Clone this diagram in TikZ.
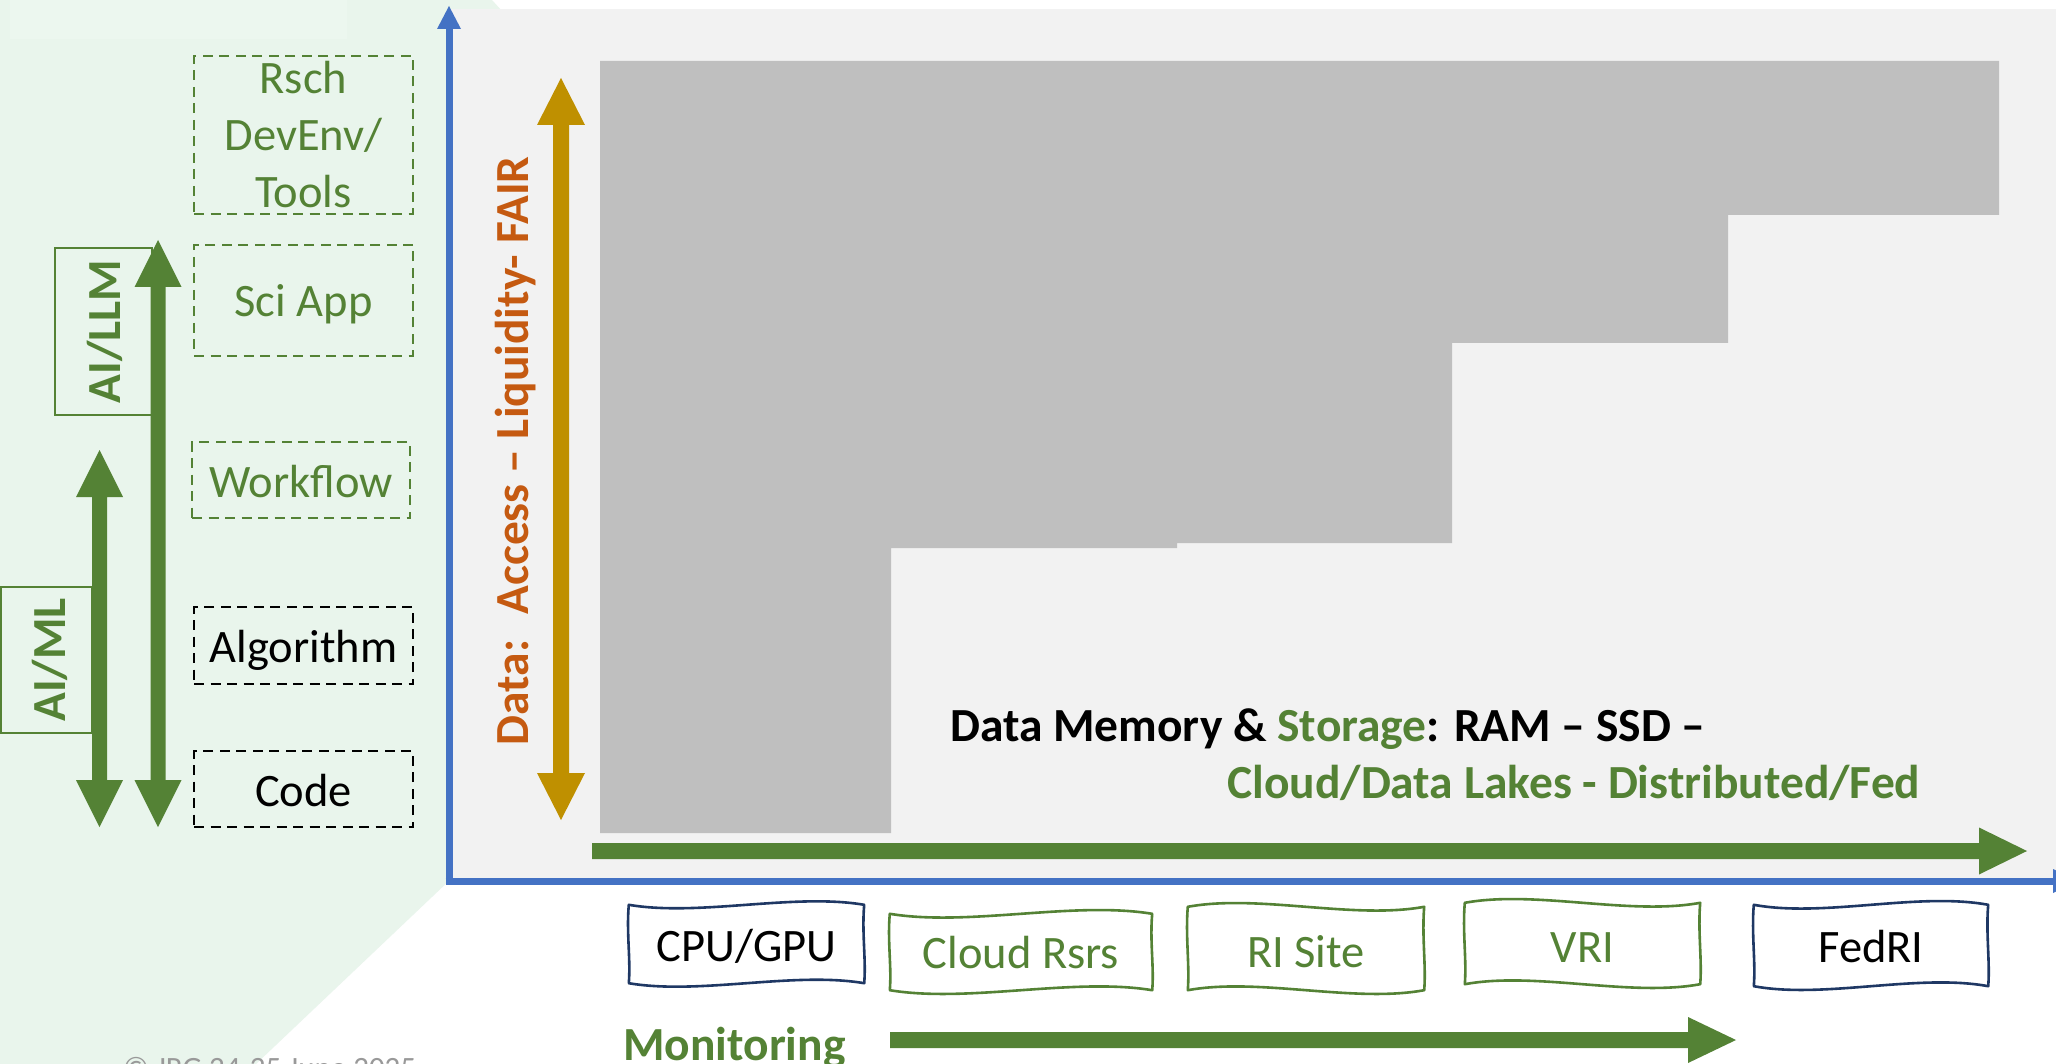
\documentclass[tikz,border=0pt]{standalone}
\usepackage{fontspec}
\setmainfont{Carlito}
\usetikzlibrary{calc}

\definecolor{leafgreen}{HTML}{548235}
\definecolor{axisblue}{HTML}{4472C4}
\definecolor{gold}{HTML}{BF9000}
\definecolor{rust}{HTML}{C55A11}
\definecolor{navy}{HTML}{1F3864}
\definecolor{mint}{HTML}{E9F5EC}
\definecolor{mintlight}{HTML}{ECF7EF}
\definecolor{panelgrey}{HTML}{F2F2F2}
\definecolor{stairgrey}{HTML}{BFBFBF}
\definecolor{notegrey}{HTML}{999999}

% hand-drawn tape outline around a node: name, colour, wave depth
\newcommand\tapeoutline[3]{%
  \draw[#2, tapeline]
    (#1.north west)
      .. controls ($(#1.north west)!0.3!(#1.north east)+(0,#3)$)
              and ($(#1.north west)!0.7!(#1.north east)+(0,-#3)$) .. (#1.north east)
      .. controls ($(#1.north east)!0.35!(#1.south east)+(-2.5,0)$)
              and ($(#1.north east)!0.7!(#1.south east)+(2,0)$) .. (#1.south east)
      .. controls ($(#1.south east)!0.3!(#1.south west)+(0,-#3)$)
              and ($(#1.south east)!0.7!(#1.south west)+(0,#3)$) .. (#1.south west)
      .. controls ($(#1.south west)!0.3!(#1.north west)+(2,0)$)
              and ($(#1.south west)!0.65!(#1.north west)+(-2.5,0)$) .. (#1.north west)
      -- cycle;}

% vertical block arrow with two heads: colour, x, top tip, bottom tip,
% half shaft width, half head width, head length
\newcommand\vbiarrow[7]{%
  \fill[#1] (#2,#3) -- (#2+#6,#3+#7) -- (#2+#5,#3+#7) -- (#2+#5,#4-#7)
    -- (#2+#6,#4-#7) -- (#2,#4) -- (#2-#6,#4-#7) -- (#2-#5,#4-#7)
    -- (#2-#5,#3+#7) -- (#2-#6,#3+#7) -- cycle;}

% horizontal block arrow: colour, tail x, tip x, y, half shaft, half head, head length
\newcommand\hblockarrow[7]{%
  \fill[#1] (#2,#4-#5) -- (#3-#7,#4-#5) -- (#3-#7,#4-#6) -- (#3,#4)
    -- (#3-#7,#4+#6) -- (#3-#7,#4+#5) -- (#2,#4+#5) -- cycle;}

\begin{document}
\begin{tikzpicture}[x=1pt, y=-1pt,
  reg/.style={font=\fontsize{46.5}{57}\selectfont},
  heavy/.style={font=\fontsize{47.5}{57}\selectfont\bfseries},
  plain/.style={inner sep=0pt},
  layerbox/.style={draw, line width=2.8pt, dash pattern=on 10pt off 6.5pt, inner sep=0pt, reg},
  capcentred/.style={text height=#1, text depth=0pt},
  tapebox/.style={inner sep=0pt, reg},
  tapeline/.style={line width=2.6pt, line join=round},
  sidelabel/.style={draw=leafgreen, line width=1.8pt, text=leafgreen, rotate=90, inner sep=0pt, heavy},
]
\useasboundingbox (0,0) rectangle (2056,1064);
\clip (0,0) rectangle (2056,1064);

% backdrop
\fill[white] (0,0) rectangle (2056,1064);
\fill[mint] (0,0) -- (492,0) -- (512,22) -- (452,878) -- (256,1064) -- (0,1064) -- cycle;
\fill[mintlight] (10,0) rectangle (347,39);
\fill[panelgrey] (449,9) rectangle (2056,881);

% staircase of data tiers
\fill[stairgrey] (600,61) -- (1999,61) -- (1999,215) -- (1728,215) -- (1728,343)
  -- (1452,343) -- (1452,543) -- (1177,543) -- (1177,548) -- (891,548)
  -- (891,833) -- (600,833) -- cycle;

% axes
\coordinate (origin) at (449,881);
\coordinate (ytip) at (449,6);
\coordinate (xtip) at (2077,881);
\draw[axisblue, line width=7pt] ($(origin)+(0,3.5)$) -- ($(ytip)+(0,22)$);
\fill[axisblue] (ytip) -- ++(12,23) -- ++(-24,0) -- cycle;
\draw[axisblue, line width=7pt] ($(origin)+(-3.5,0)$) -- ($(xtip)+(-22,0)$);
\fill[axisblue] (xtip) -- ++(-24,-12) -- ++(0,24) -- cycle;

% software layers
\node[layerbox, leafgreen, minimum width=219pt, minimum height=158pt, align=center] (rsch) at (303.5,135) {Rsch\\DevEnv/\\Tools};
\node[layerbox, leafgreen, capcentred=33pt, minimum width=219pt, minimum height=111pt] (sciapp) at (303.5,300.5) {Sci App};
\node[layerbox, leafgreen, capcentred=34pt, minimum width=218pt, minimum height=76pt] (workflow) at (301,480) {Workflow};
\node[layerbox, black, capcentred=33pt, minimum width=219pt, minimum height=77pt] (algorithm) at (303.5,645.5) {Algorithm};
\node[layerbox, black, capcentred=34pt, minimum width=219pt, minimum height=76pt] (code) at (303.5,789) {Code};

% AI spans
\node[sidelabel, capcentred=33pt, minimum width=167pt, minimum height=97pt] (aillm) at (103.5,331.5) {AI/LLM};
\node[sidelabel, capcentred=38pt, minimum width=146pt, minimum height=91pt] (aiml) at (46.5,660) {AI/ML};
\vbiarrow{leafgreen}{158}{240}{827}{7.5}{23.5}{47}
\vbiarrow{leafgreen}{99.5}{450}{827}{7.5}{23.5}{47}

% data access axis
\vbiarrow{gold}{561}{78}{820}{8}{24}{47}
\node[plain, heavy, text=rust, rotate=90, anchor=base] (access) at (528,451)
  {Data:\hspace{11pt} Access -- Liquidity- FAIR};

% memory and storage axis
\hblockarrow{leafgreen}{592}{2027}{851}{8}{23.5}{48}
\node[plain, heavy, anchor=base west] (memory) at (950,741)
  {Data Memory \& \textcolor{leafgreen}{Storage}: RAM -- SSD --};
\node[plain, heavy, text=leafgreen, anchor=base west] (lakes) at (1227,798)
  {Cloud/Data Lakes - Distributed/Fed};

% compute resources
\node[tapebox, capcentred=34pt, minimum width=235pt, minimum height=78pt] (cpu) at (746.5,944) {CPU/GPU};
\node[tapebox, capcentred=32pt, text=leafgreen, minimum width=262pt, minimum height=76pt] (cloud) at (1021,952) {Cloud Rsrs};
\node[tapebox, capcentred=37pt, text=leafgreen, minimum width=236pt, minimum height=83pt] (risite) at (1306,948.5) {RI Site};
\node[tapebox, capcentred=37pt, text=leafgreen, minimum width=235pt, minimum height=81pt] (vri) at (1582.5,943.5) {VRI};
\node[tapebox, capcentred=33pt, minimum width=234pt, minimum height=81pt] (fedri) at (1871,945.5) {FedRI};
\tapeoutline{cpu}{navy}{12}
\tapeoutline{cloud}{leafgreen}{13}
\tapeoutline{risite}{leafgreen}{-13}
\tapeoutline{vri}{leafgreen}{-13}
\tapeoutline{fedri}{navy}{13}

% monitoring
\node[plain, heavy, text=leafgreen, anchor=base west] (monitor) at (623,1060) {Monitoring};
\hblockarrow{leafgreen}{890}{1736}{1040}{8}{23}{48}

% credit line
\node[plain, anchor=base west, font=\fontsize{31}{36}\selectfont, text=notegrey] (credit) at (123,1078) {© JRG 24-25 June 2025};
\end{tikzpicture}
\end{document}
